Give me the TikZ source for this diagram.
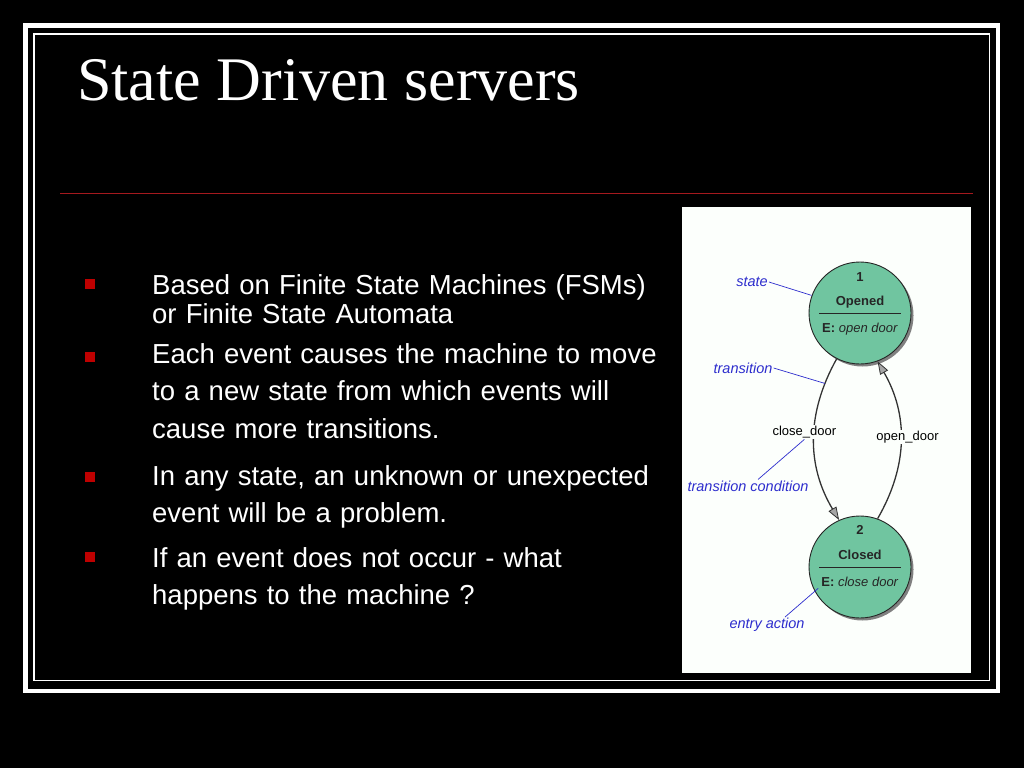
\documentclass[tikz,border=0pt]{standalone}
\usepackage{fontspec}
\setmainfont{Liberation Sans}
\newfontfamily\titlefont{Liberation Serif}
\usetikzlibrary{shapes,shapes.geometric,positioning,shadows,arrows.meta}

\definecolor{bulletred}{RGB}{190,0,0}
\definecolor{rulered}{RGB}{165,25,30}
\definecolor{stategreen}{RGB}{112,197,160}
\definecolor{noteblue}{RGB}{45,45,205}
\definecolor{panelwhite}{RGB}{252,255,252}

\begin{document}
\begin{tikzpicture}[x=1pt,y=-1pt,node distance=254pt,
    bullet/.style={rectangle,fill=bulletred,minimum size=10pt,inner sep=0pt},
    item/.style={anchor=base west,text width=540pt,align=left,inner sep=0pt,text=white,font=\fontsize{27.5}{37.5}\selectfont},
    state/.style={circle,draw=black!85,line width=0.9pt,fill=stategreen,minimum size=102pt,inner sep=0pt,
        drop shadow={shadow xshift=2.5pt,shadow yshift=-2.5pt,fill=gray,opacity=1}},
    inside/.style={font=\fontsize{13}{15}\selectfont,text=black!85,inner sep=0pt},
    note/.style={font=\fontsize{14.5}{16}\selectfont\itshape,text=noteblue,inner sep=1pt},
    event/.style={font=\fontsize{13}{15}\selectfont,fill=panelwhite,inner sep=1pt},
    pointer/.style={draw=noteblue,line width=0.7pt},
    trans/.style={line width=1.3pt,draw=black!80,-{Triangle[length=13pt,width=9pt,fill=gray!70,line width=0.8pt]}}]

    % Slide
    \fill[black] (0,0) rectangle (1024,768);
    \draw[white,line width=4.5pt] (25.5,25.5) rectangle (998,691);
    \draw[white,line width=1.5pt] (34,34) rectangle (989.5,680.5);

    \node[anchor=base west,inner sep=0pt,text=white,font=\titlefont\fontsize{62}{70}\selectfont] (title) at (77,100) {State Driven servers};
    \draw[rulered,line width=1.8pt] (60,193.5) -- (973,193.5);

    % Bullets
    \node[bullet] (b1) at (90,284) {};
    \node[bullet] (b2) at (90,357) {};
    \node[bullet] (b3) at (90,477) {};
    \node[bullet] (b4) at (90,557) {};
    \node[item,font=\fontsize{27.5}{29}\selectfont] (i1) at (152,294) {Based on Finite State Machines (FSMs)\\ or Finite State Automata};
    \node[item] (i2) at (152,363) {Each event causes the machine to move\\ to a new state from which events will\\ cause more transitions.};
    \node[item] (i3) at (152,485) {In any state, an unknown or unexpected\\ event will be a problem.};
    \node[item] (i4) at (152,567) {If an event does not occur - what\\ happens to the machine ?};

    % Diagram
    \fill[panelwhite] (682,207) rectangle (971,673);
    \node[state] (s1) at (860,313) {};
    \node[state,below of=s1] (s2) {};

    \node[inside,font=\fontsize{13}{15}\selectfont\bfseries] (n1) at ([yshift=36pt]s1.center) {1};
    \node[inside,font=\fontsize{13}{15}\selectfont\bfseries] (o1) at ([yshift=11pt]s1.center) {Opened};
    \draw[black!85,line width=0.8pt] ([xshift=-41pt]s1.center) -- ([xshift=41pt]s1.center);
    \node[inside] (e1) at ([yshift=-16pt]s1.center) {\textbf{E:} \textit{open door}};

    \node[inside,font=\fontsize{13}{15}\selectfont\bfseries] (n2) at ([yshift=37pt]s2.center) {2};
    \node[inside,font=\fontsize{13}{15}\selectfont\bfseries] (o2) at ([yshift=12pt]s2.center) {Closed};
    \draw[black!85,line width=0.8pt] ([xshift=-41pt]s2.center) -- ([xshift=41pt]s2.center);
    \node[inside] (e2) at ([yshift=-15pt]s2.center) {\textbf{E:} \textit{close door}};

    % Transitions
    \draw[trans] (s1.243) to[bend right=30] coordinate[pos=0.15] (t1)
        node[event,pos=0.45,xshift=-10pt] (lc) {close\_door} (s2.114);
    \draw[trans] (s2.70) to[bend right=30]
        node[event,pos=0.52,xshift=7pt] (lo) {open\_door} (s1.290);

    % Notes
    \node[note] (ns) at (752,282) {state};
    \draw[pointer] (ns.east) -- (s1.160);
    \node[note] (nt) at (743,368) {transition};
    \draw[pointer] (nt.east) -- (t1);
    \node[note] (nc) at (748,486) {transition condition};
    \draw[pointer] ([xshift=10pt]nc.north) -- (lc.south);
    \node[note] (ne) at (767,625) {entry action};
    \draw[pointer] ([xshift=18pt]ne.north) -- ([xshift=4pt,yshift=2pt]s2.207);
\end{tikzpicture}
\end{document}
